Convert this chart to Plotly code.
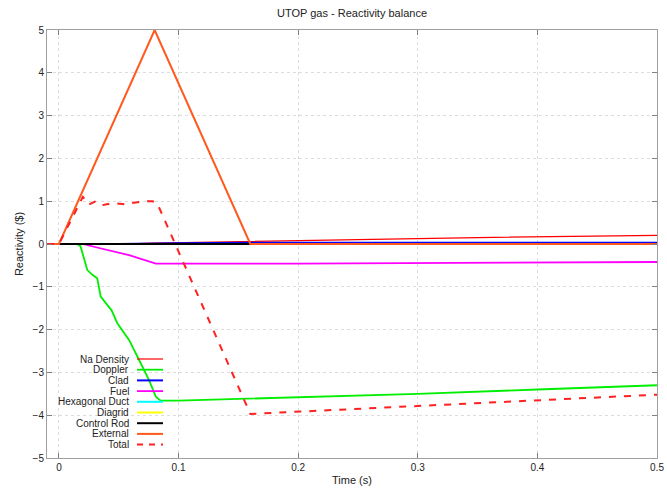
import plotly.graph_objects as go

# ---------------- data ----------------
t_ext = [-0.01, 0.0, 0.08, 0.16, 0.5]
external = [0.0, 0.0, 5.0, 0.0, 0.0]

t_total = [-0.01, 0.0, 0.02, 0.025, 0.03, 0.035, 0.04, 0.047, 0.055, 0.065, 0.072, 0.078, 0.082, 0.16, 0.5]
total = [0.0, 0.0, 1.1, 0.92, 0.99, 0.9, 0.93, 0.95, 0.93, 0.97, 1.0, 1.0, 0.96, -3.97, -3.52]

t_dop = [0.0, 0.015, 0.018, 0.0237, 0.028, 0.032, 0.0349, 0.039, 0.044, 0.0488, 0.0586, 0.067, 0.0753, 0.081, 0.085, 0.1, 0.2, 0.3, 0.4, 0.5]
doppler = [0.0, 0.0, -0.05, -0.61, -0.72, -0.8, -1.23, -1.38, -1.55, -1.85, -2.24, -2.71, -3.18, -3.57, -3.66, -3.66, -3.58, -3.5, -3.4, -3.3]

t_fuel = [0.0, 0.02, 0.03, 0.0586, 0.081, 0.2, 0.5]
fuel = [0.0, 0.0, -0.07, -0.26, -0.46, -0.46, -0.42]

t_na = [0.0, 0.05, 0.08, 0.16, 0.25, 0.35, 0.5]
na_density = [0.0, 0.0, 0.02, 0.05, 0.1, 0.15, 0.2]

t_clad = [0.0, 0.05, 0.1, 0.16, 0.5]
clad = [0.0, 0.0, 0.02, 0.03, 0.03]

t_flat = [0.0, 0.5]
hex_duct = [0.0, 0.0]
diagrid = [0.0, 0.0]
control_rod = [0.0, 0.0]

x_ticks = [0, 0.1, 0.2, 0.3, 0.4, 0.5]
x_tick_labels = ["0", "0.1", "0.2", "0.3", "0.4", "0.5"]
y_ticks = [-5, -4, -3, -2, -1, 0, 1, 2, 3, 4, 5]

series = [
    ("Na Density", t_na, na_density, "#ff0000", 1.2, "solid"),
    ("Doppler", t_dop, doppler, "#00ee00", 1.8, "solid"),
    ("Clad", t_clad, clad, "#0000ff", 2, "solid"),
    ("Fuel", t_fuel, fuel, "#ff00ff", 1.8, "solid"),
    ("Hexagonal Duct", t_flat, hex_duct, "#00ffff", 2, "solid"),
    ("Diagrid", t_flat, diagrid, "#ffff00", 2, "solid"),
    ("Control Rod", t_flat, control_rod, "#000000", 2, "solid"),
    ("External", t_ext, external, "#ff5a1e", 2, "solid"),
    ("Total", t_total, total, "#ff2020", 2, "7px,8px"),
]

FONT = "Liberation Sans, Arial, sans-serif"

fig = go.Figure()
for name, xs, ys, col, w, dash in series:
    fig.add_trace(go.Scatter(x=xs, y=ys, mode="lines", name=name,
                             line=dict(color=col, width=w, dash=dash),
                             showlegend=False))

W, H = 667, 495
ml, mr, mt, mb = 47, 10, 30, 37
pw, ph = W - ml - mr, H - mt - mb
row0, step = 359, 10.7
for i, (name, xs, ys, col, w, dash) in enumerate(series):
    py = row0 + i * step
    yp = 1 - (py - mt) / ph
    fig.add_annotation(x=(131 - ml) / pw, y=yp, xref="paper", yref="paper",
                       text=name, showarrow=False, xanchor="right", yanchor="middle",
                       font=dict(size=10, color="#222222", family=FONT))
    fig.add_shape(type="line", xref="paper", yref="paper",
                  x0=(137 - ml) / pw, x1=(163 - ml) / pw, y0=yp, y1=yp,
                  line=dict(color=col, width=w, dash="6px,6px" if dash != "solid" else "solid"))

axis_common = dict(
    showline=True, linecolor="#a0a0a0", linewidth=1, mirror="ticks",
    ticks="inside", ticklen=5, tickcolor="#808080",
    showgrid=True, gridcolor="#dddddd", griddash="dot", gridwidth=1,
    zeroline=False, tickfont=dict(size=10, color="#222222", family=FONT),
    ticklabeloverflow="allow", automargin=False,
)

fig.update_layout(
    width=W, height=H,
    margin=dict(l=ml, r=mr, t=mt, b=mb),
    paper_bgcolor="white", plot_bgcolor="white",
    title=dict(text="UTOP gas - Reactivity balance", x=(ml + pw / 2) / W, xanchor="center",
               y=1 - 13 / H, yanchor="middle",
               font=dict(size=11, color="#222222", family=FONT)),
    xaxis=dict(range=[-0.01, 0.5], tickvals=x_ticks, ticktext=x_tick_labels,
               title=dict(text="Time (s)", font=dict(size=11, color="#222222", family=FONT), standoff=4),
               **axis_common),
    yaxis=dict(range=[-5, 5], tickvals=y_ticks,
               title=dict(text="Reactivity ($)", font=dict(size=11, color="#222222", family=FONT), standoff=6),
               **axis_common),
)

fig.write_html("out.html", config={"displayModeBar": False},
               post_script="document.body.style.margin='0';document.body.style.overflow='hidden';")
